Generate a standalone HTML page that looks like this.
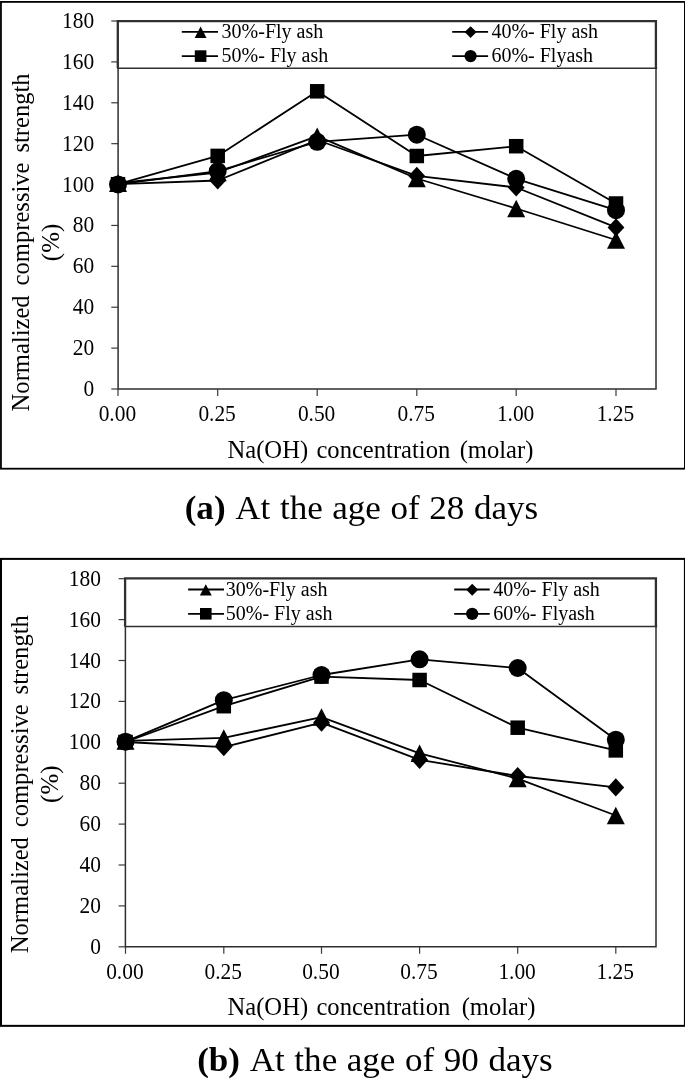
<!DOCTYPE html>
<html>
<head>
<meta charset="utf-8">
<title>Normalized compressive strength vs Na(OH) concentration</title>
<style>
html,body{margin:0;padding:0;background:#fff;}
body{width:685px;height:1084px;overflow:hidden;}
svg{display:block;font-family:"Liberation Serif",serif;fill:#000;will-change:transform;}
text{font-family:"Liberation Serif",serif;}
</style>
</head>
<body>
<svg width="685" height="1084" viewBox="0 0 685 1084">
<rect x="0" y="0" width="685" height="1084" fill="#fff"/>
<!-- chart (a) -->
<rect x="0.95" y="1.9" width="683.95" height="466.8" fill="#fff" stroke="#000" stroke-width="1.8"/>
<g stroke="#2e2e2e" stroke-width="1.5" fill="none">
<path d="M118.1 21V389H656V21"/>
</g>
<g stroke="#3a3a3a" stroke-width="1.2">
<path d="M111.3 389H118.1"/>
<path d="M111.3 348.11H118.1"/>
<path d="M111.3 307.22H118.1"/>
<path d="M111.3 266.33H118.1"/>
<path d="M111.3 225.44H118.1"/>
<path d="M111.3 184.56H118.1"/>
<path d="M111.3 143.67H118.1"/>
<path d="M111.3 102.78H118.1"/>
<path d="M111.3 61.89H118.1"/>
<path d="M111.3 21H118.1"/>
<path d="M118 389V396"/>
<path d="M217.7 389V396"/>
<path d="M317.2 389V396"/>
<path d="M416.8 389V396"/>
<path d="M516.2 389V396"/>
<path d="M616 389V396"/>
</g>
<text transform="translate(94.2 396) scale(0.915 1)" font-size="23.4" text-anchor="end">0</text>
<text transform="translate(94.2 355.11) scale(0.915 1)" font-size="23.4" text-anchor="end">20</text>
<text transform="translate(94.2 314.22) scale(0.915 1)" font-size="23.4" text-anchor="end">40</text>
<text transform="translate(94.2 273.33) scale(0.915 1)" font-size="23.4" text-anchor="end">60</text>
<text transform="translate(94.2 232.44) scale(0.915 1)" font-size="23.4" text-anchor="end">80</text>
<text transform="translate(94.2 191.56) scale(0.915 1)" font-size="23.4" text-anchor="end">100</text>
<text transform="translate(94.2 150.67) scale(0.915 1)" font-size="23.4" text-anchor="end">120</text>
<text transform="translate(94.2 109.78) scale(0.915 1)" font-size="23.4" text-anchor="end">140</text>
<text transform="translate(94.2 68.89) scale(0.915 1)" font-size="23.4" text-anchor="end">160</text>
<text transform="translate(94.2 28) scale(0.915 1)" font-size="23.4" text-anchor="end">180</text>
<text transform="translate(117.4 421.1) scale(0.915 1)" font-size="23.4" text-anchor="middle">0.00</text>
<text transform="translate(217.1 421.1) scale(0.915 1)" font-size="23.4" text-anchor="middle">0.25</text>
<text transform="translate(316.6 421.1) scale(0.915 1)" font-size="23.4" text-anchor="middle">0.50</text>
<text transform="translate(416.2 421.1) scale(0.915 1)" font-size="23.4" text-anchor="middle">0.75</text>
<text transform="translate(515.6 421.1) scale(0.915 1)" font-size="23.4" text-anchor="middle">1.00</text>
<text transform="translate(615.4 421.1) scale(0.915 1)" font-size="23.4" text-anchor="middle">1.25</text>
<text x="227.5" y="457.8" font-size="24.6">Na(OH)<tspan dx="2.2"> concentration</tspan><tspan dx="3.2"> (molar)</tspan></text>
<g font-size="25" text-anchor="middle">
<text transform="translate(28.8 242.4) rotate(-90) scale(0.984 1)" word-spacing="3.8">Normalized compressive strength</text>
<text transform="translate(58.8 242.4) rotate(-90)">(%)</text>
</g>
<g stroke="#000" stroke-width="1.8" fill="none" stroke-linejoin="round">
<polyline points="118,183.2 217.7,172.5 317.2,136.2 416.8,178.5 516.2,208.5 616,240"/>
<polyline points="118,184.2 217.7,180.5 317.2,140 416.8,175.9 516.2,187.5 616,227.4"/>
<polyline points="118,184.2 217.7,155.9 317.2,91.3 416.8,156 516.2,146.2 616,203.5"/>
<polyline points="118,184.4 217.7,171.1 317.2,141.8 416.8,134.7 516.2,178.8 616,210.2"/>
</g>
<g fill="#000">
<path d="M118 174.45L127 191.95L109 191.95Z"/>
<path d="M217.7 163.75L226.7 181.25L208.7 181.25Z"/>
<path d="M317.2 127.45L326.2 144.95L308.2 144.95Z"/>
<path d="M416.8 169.75L425.8 187.25L407.8 187.25Z"/>
<path d="M516.2 199.75L525.2 217.25L507.2 217.25Z"/>
<path d="M616 231.25L625 248.75L607 248.75Z"/>
<path d="M118 175.1L126.4 184.2L118 193.3L109.6 184.2Z"/>
<path d="M217.7 171.4L226.1 180.5L217.7 189.6L209.3 180.5Z"/>
<path d="M317.2 130.9L325.6 140L317.2 149.1L308.8 140Z"/>
<path d="M416.8 166.8L425.2 175.9L416.8 185L408.4 175.9Z"/>
<path d="M516.2 178.4L524.6 187.5L516.2 196.6L507.8 187.5Z"/>
<path d="M616 218.3L624.4 227.4L616 236.5L607.6 227.4Z"/>
<rect x="110.75" y="176.95" width="14.5" height="14.5"/>
<rect x="210.45" y="148.65" width="14.5" height="14.5"/>
<rect x="309.95" y="84.05" width="14.5" height="14.5"/>
<rect x="409.55" y="148.75" width="14.5" height="14.5"/>
<rect x="508.95" y="138.95" width="14.5" height="14.5"/>
<rect x="608.75" y="196.25" width="14.5" height="14.5"/>
<circle cx="118" cy="184.4" r="9"/>
<circle cx="217.7" cy="171.1" r="9"/>
<circle cx="317.2" cy="141.8" r="9"/>
<circle cx="416.8" cy="134.7" r="9"/>
<circle cx="516.2" cy="178.8" r="9"/>
<circle cx="616" cy="210.2" r="9"/>
</g>
<rect x="118.3" y="21.2" width="537.7" height="47.1" fill="#fff" stroke="none"/>
<path d="M117.8 68.3V21.2H655.9V68.3" fill="none" stroke="#303030" stroke-width="2.3"/>
<path d="M117.2 68.3H657.2" fill="none" stroke="#303030" stroke-width="1.5"/>
<g stroke="#000" stroke-width="1.8">
<path d="M181.8 31.9H218"/>
<path d="M181.8 56.1H218"/>
<path d="M452.2 31.9H488.1"/>
<path d="M452.2 56.1H488.1"/>
</g>
<g fill="#000">
<path d="M200.6 26.6L206.55 38L194.65 38Z"/>
<rect x="194.8" y="50.3" width="11.6" height="11.6"/>
<path d="M470.6 26.15L476.55 32.1L470.6 38.05L464.65 32.1Z"/>
<circle cx="470.6" cy="56.1" r="6.15"/>
</g>
<g font-size="20">
<text x="221.6" y="38.3">30%-Fly ash</text>
<text x="221.6" y="62.4">50%- Fly ash</text>
<text x="491.4" y="38.3">40%- Fly ash</text>
<text x="491.4" y="62.4">60%- Flyash</text>
</g>
<text transform="translate(184.7 519.4) scale(1.025 1)" font-size="34.2" word-spacing="0.8"><tspan font-weight="bold">(a)</tspan><tspan dx="2"> At the age of 28 days</tspan></text>
<!-- chart (b) -->
<rect x="1" y="558.9" width="683.9" height="466.95" fill="#fff" stroke="#000" stroke-width="2.0"/>
<g stroke="#2e2e2e" stroke-width="1.5" fill="none">
<path d="M125.4 578.7V946.8H656V578.7"/>
</g>
<g stroke="#3a3a3a" stroke-width="1.2">
<path d="M118.6 946.8H125.4"/>
<path d="M118.6 905.9H125.4"/>
<path d="M118.6 865H125.4"/>
<path d="M118.6 824.1H125.4"/>
<path d="M118.6 783.2H125.4"/>
<path d="M118.6 742.3H125.4"/>
<path d="M118.6 701.4H125.4"/>
<path d="M118.6 660.5H125.4"/>
<path d="M118.6 619.6H125.4"/>
<path d="M118.6 578.7H125.4"/>
<path d="M125.5 946.8V953.8"/>
<path d="M223.8 946.8V953.8"/>
<path d="M321.5 946.8V953.8"/>
<path d="M419.6 946.8V953.8"/>
<path d="M517.7 946.8V953.8"/>
<path d="M615.8 946.8V953.8"/>
</g>
<text transform="translate(100.9 953.8) scale(0.915 1)" font-size="23.4" text-anchor="end">0</text>
<text transform="translate(100.9 912.9) scale(0.915 1)" font-size="23.4" text-anchor="end">20</text>
<text transform="translate(100.9 872) scale(0.915 1)" font-size="23.4" text-anchor="end">40</text>
<text transform="translate(100.9 831.1) scale(0.915 1)" font-size="23.4" text-anchor="end">60</text>
<text transform="translate(100.9 790.2) scale(0.915 1)" font-size="23.4" text-anchor="end">80</text>
<text transform="translate(100.9 749.3) scale(0.915 1)" font-size="23.4" text-anchor="end">100</text>
<text transform="translate(100.9 708.4) scale(0.915 1)" font-size="23.4" text-anchor="end">120</text>
<text transform="translate(100.9 667.5) scale(0.915 1)" font-size="23.4" text-anchor="end">140</text>
<text transform="translate(100.9 626.6) scale(0.915 1)" font-size="23.4" text-anchor="end">160</text>
<text transform="translate(100.9 585.7) scale(0.915 1)" font-size="23.4" text-anchor="end">180</text>
<text transform="translate(124.9 978.9) scale(0.915 1)" font-size="23.4" text-anchor="middle">0.00</text>
<text transform="translate(223.2 978.9) scale(0.915 1)" font-size="23.4" text-anchor="middle">0.25</text>
<text transform="translate(320.9 978.9) scale(0.915 1)" font-size="23.4" text-anchor="middle">0.50</text>
<text transform="translate(419 978.9) scale(0.915 1)" font-size="23.4" text-anchor="middle">0.75</text>
<text transform="translate(517.1 978.9) scale(0.915 1)" font-size="23.4" text-anchor="middle">1.00</text>
<text transform="translate(615.2 978.9) scale(0.915 1)" font-size="23.4" text-anchor="middle">1.25</text>
<text x="227.5" y="1015.2" font-size="24.6">Na(OH)<tspan dx="2.2"> concentration</tspan><tspan dx="5.2"> (molar)</tspan></text>
<g font-size="25" text-anchor="middle">
<text transform="translate(27.8 784.2) rotate(-90) scale(0.984 1)" word-spacing="3.8">Normalized compressive strength</text>
<text transform="translate(57.6 784.2) rotate(-90)">(%)</text>
</g>
<g stroke="#000" stroke-width="1.8" fill="none" stroke-linejoin="round">
<polyline points="125.5,740.9 223.8,737.9 321.5,717.1 419.6,753.3 517.7,778.6 615.8,815.5"/>
<polyline points="125.5,742 223.8,747.1 321.5,722.6 419.6,759.8 517.7,776 615.8,787.4"/>
<polyline points="125.5,742 223.8,706.2 321.5,676.6 419.6,680 517.7,727.7 615.8,750.4"/>
<polyline points="125.5,741.7 223.8,700.2 321.5,675 419.6,659.3 517.7,668 615.8,739.7"/>
</g>
<g fill="#000">
<path d="M125.5 732.15L134.5 749.65L116.5 749.65Z"/>
<path d="M223.8 729.15L232.8 746.65L214.8 746.65Z"/>
<path d="M321.5 708.35L330.5 725.85L312.5 725.85Z"/>
<path d="M419.6 744.55L428.6 762.05L410.6 762.05Z"/>
<path d="M517.7 769.85L526.7 787.35L508.7 787.35Z"/>
<path d="M615.8 806.75L624.8 824.25L606.8 824.25Z"/>
<path d="M125.5 732.9L133.9 742L125.5 751.1L117.1 742Z"/>
<path d="M223.8 738L232.2 747.1L223.8 756.2L215.4 747.1Z"/>
<path d="M321.5 713.5L329.9 722.6L321.5 731.7L313.1 722.6Z"/>
<path d="M419.6 750.7L428 759.8L419.6 768.9L411.2 759.8Z"/>
<path d="M517.7 766.9L526.1 776L517.7 785.1L509.3 776Z"/>
<path d="M615.8 778.3L624.2 787.4L615.8 796.5L607.4 787.4Z"/>
<rect x="118.25" y="734.75" width="14.5" height="14.5"/>
<rect x="216.55" y="698.95" width="14.5" height="14.5"/>
<rect x="314.25" y="669.35" width="14.5" height="14.5"/>
<rect x="412.35" y="672.75" width="14.5" height="14.5"/>
<rect x="510.45" y="720.45" width="14.5" height="14.5"/>
<rect x="608.55" y="743.15" width="14.5" height="14.5"/>
<circle cx="125.5" cy="741.7" r="9"/>
<circle cx="223.8" cy="700.2" r="9"/>
<circle cx="321.5" cy="675" r="9"/>
<circle cx="419.6" cy="659.3" r="9"/>
<circle cx="517.7" cy="668" r="9"/>
<circle cx="615.8" cy="739.7" r="9"/>
</g>
<rect x="125.6" y="578.4" width="530.4" height="48" fill="#fff" stroke="none"/>
<path d="M125.1 626.4V578.4H655.9V626.4" fill="none" stroke="#303030" stroke-width="2.3"/>
<path d="M124.5 626.4H657.2" fill="none" stroke="#303030" stroke-width="1.5"/>
<g stroke="#000" stroke-width="1.8">
<path d="M188.1 589.5H224"/>
<path d="M188.1 613.8H224"/>
<path d="M454.2 589.5H489.7"/>
<path d="M454.2 613.8H489.7"/>
</g>
<g fill="#000">
<path d="M205.8 584.2L211.75 595.6L199.85 595.6Z"/>
<rect x="200" y="608" width="11.6" height="11.6"/>
<path d="M472.2 583.75L478.15 589.7L472.2 595.65L466.25 589.7Z"/>
<circle cx="472.2" cy="613.8" r="6.15"/>
</g>
<g font-size="20">
<text x="225.8" y="595.9">30%-Fly ash</text>
<text x="225.8" y="620.1">50%- Fly ash</text>
<text x="493.2" y="595.9">40%- Fly ash</text>
<text x="493.2" y="620.1">60%- Flyash</text>
</g>
<text transform="translate(197.2 1070.9) scale(1.025 1)" font-size="34.2" word-spacing="0.8"><tspan font-weight="bold">(b)</tspan><tspan dx="2"> At the age of 90 days</tspan></text>
</svg>
</body>
</html>
